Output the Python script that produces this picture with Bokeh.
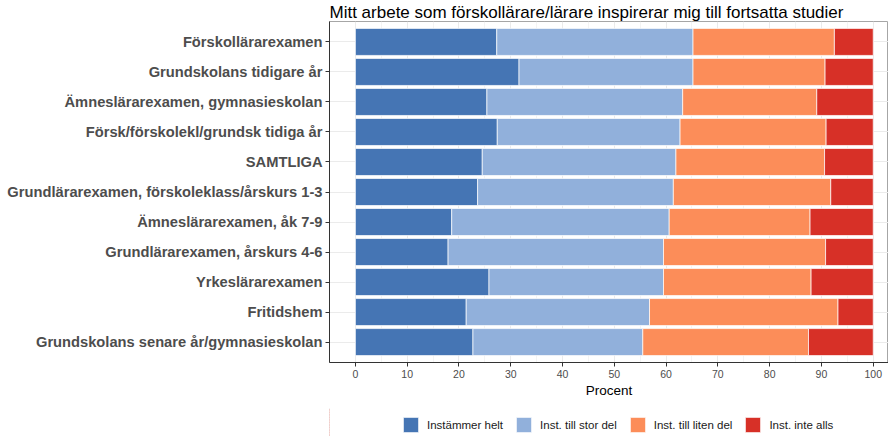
from bokeh.plotting import figure
from bokeh.layouts import column
from bokeh.models import FactorRange, Range1d, Legend, LegendItem, ColumnDataSource, FixedTicker
from bokeh.embed import file_html
from bokeh.resources import INLINE

categories = [
    "Förskollärarexamen",
    "Grundskolans tidigare år",
    "Ämneslärarexamen, gymnasieskolan",
    "Försk/förskolekl/grundsk tidiga år",
    "SAMTLIGA",
    "Grundlärarexamen, förskoleklass/årskurs 1-3",
    "Ämneslärarexamen, åk 7-9",
    "Grundlärarexamen, årskurs 4-6",
    "Yrkeslärarexamen",
    "Fritidshem",
    "Grundskolans senare år/gymnasieskolan",
]
instammer_helt = [27.3, 31.6, 25.4, 27.4, 24.5, 23.6, 18.6, 17.9, 25.8, 21.4, 22.7]
till_stor_del = [37.9, 33.6, 37.8, 35.3, 37.4, 37.8, 42.0, 41.6, 33.7, 35.4, 32.8]
till_liten_del = [27.3, 25.5, 25.9, 28.2, 28.7, 30.4, 27.2, 31.3, 28.5, 36.4, 32.0]
inte_alls = [7.5, 9.3, 10.9, 9.1, 9.4, 8.2, 12.2, 9.2, 12.0, 6.8, 12.5]

series_names = ["Instämmer helt", "Inst. till stor del", "Inst. till liten del", "Inst. inte alls"]
series_keys = ["helt", "stor", "liten", "inte"]
colors = ["#4575b4", "#91b0db", "#fc8d59", "#d73027"]
x_ticks = [0, 10, 20, 30, 40, 50, 60, 70, 80, 90, 100]
x_minor = [5, 15, 25, 35, 45, 55, 65, 75, 85, 95]

FONT = "Liberation Sans"

source = ColumnDataSource(dict(
    cat=categories,
    helt=instammer_helt,
    stor=till_stor_del,
    liten=till_liten_del,
    inte=inte_alls,
))

p = figure(
    frame_width=559, frame_height=341,
    y_range=FactorRange(factors=categories[::-1], range_padding=0.18, range_padding_units="absolute"),
    x_range=Range1d(-5, 102.95),
    output_backend="svg", toolbar_location=None,
    min_border_left=329, min_border_right=0, min_border_top=0, min_border_bottom=0,
    title="Mitt arbete som förskollärare/lärare inspirerar mig till fortsatta studier",
)

renderers = p.hbar_stack(series_keys, y="cat", height=0.9, color=colors, source=source,
                         line_color="white", line_width=0.7)

# Title
p.title.text_font = FONT
p.title.text_font_size = "17px"
p.title.text_font_style = "normal"
p.title.text_color = "#000000"
p.title.align = "left"
p.title.standoff = 0

# Frame
p.outline_line_color = "#a6a6a6"
p.outline_line_width = 1
p.background_fill_color = "white"

# Grid
p.xgrid.ticker = FixedTicker(ticks=x_ticks, minor_ticks=x_minor)
p.xgrid.grid_line_color = "#ebebeb"
p.xgrid.minor_grid_line_color = "#f4f4f4"
p.ygrid.grid_line_color = "#ebebeb"

# X axis
xa = p.xaxis[0]
xa.ticker = FixedTicker(ticks=x_ticks)
xa.axis_label = "Procent"
xa.axis_label_text_font = FONT
xa.axis_label_text_font_size = "13.5px"
xa.axis_label_text_font_style = "normal"
xa.axis_label_text_color = "#000000"
xa.axis_label_standoff = 2
xa.major_label_text_font = FONT
xa.major_label_text_font_size = "10.5px"
xa.major_label_text_color = "#4d4d4d"
xa.axis_line_color = "#333333"
xa.major_tick_line_color = "#333333"
xa.major_tick_out = 4
xa.major_tick_in = 0
xa.minor_tick_line_color = None
xa.major_label_standoff = 3

# Y axis
ya = p.yaxis[0]
ya.major_label_text_font = FONT
ya.major_label_text_font_size = "14.7px"
ya.major_label_text_font_style = "bold"
ya.major_label_text_color = "#4d4d4d"
ya.axis_line_color = "#333333"
ya.major_tick_line_color = "#333333"
ya.major_tick_out = 4
ya.major_tick_in = 0
ya.major_label_standoff = 3

# Legend strip: a small companion figure aligned with the main frame.
# Its stacked bars lie outside its visible x range; only the legend shows.
q = figure(
    frame_width=559, frame_height=28,
    y_range=FactorRange(factors=categories[::-1]),
    x_range=Range1d(110, 120),
    output_backend="svg", toolbar_location=None,
    x_axis_location=None, y_axis_location=None,
    min_border_left=329, min_border_right=0, min_border_top=8, min_border_bottom=0,
)
q.grid.visible = False
q.outline_line_color = None
q.background_fill_color = "white"
leg_renderers = q.hbar_stack(series_keys, y="cat", height=0.9, color=colors, source=source,
                             line_color="white", line_width=0.7)

items = [LegendItem(label=n, renderers=[r]) for n, r in zip(series_names, leg_renderers)]
legend = Legend(items=items, orientation="horizontal", location=(72, 2),
                glyph_width=19, glyph_height=19, label_standoff=7, spacing=11,
                label_text_font=FONT, label_text_font_size="11.5px", label_text_color="#1a1a1a",
                border_line_color=None, background_fill_alpha=0, padding=2, margin=0)
q.add_layout(legend, "center")

layout = column(p, q, spacing=0)
open("out.html", "w").write(file_html(layout, INLINE))
